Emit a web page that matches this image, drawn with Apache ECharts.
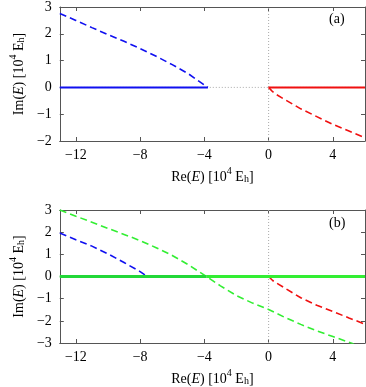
<!DOCTYPE html>
<html><head><meta charset="utf-8">
<script src="https://cdn.jsdelivr.net/npm/echarts@6/dist/echarts.min.js"></script>
<style>html,body{margin:0;padding:0;background:#fff}#c{width:366px;height:387px}</style>
</head><body><div id="c"></div><script>
// ---- data ----
const xTicks = [-12, -8, -4, 0, 4];
// reference lines
const zeroHX = [-13, 6], zeroHY = [0, 0];
const zeroVXa = [0, 0], zeroVYa = [-2, 3];
const zeroVXb = [0, 0], zeroVYb = [-3, 3];
// panel (a)
const aBlueDashX = [-13, -12, -11, -10, -9, -8, -7, -6, -5, -4.5, -4, -3.78];
const aBlueDashY = [2.76, 2.50, 2.23, 1.97, 1.72, 1.45, 1.16, 0.85, 0.51, 0.30, 0.09, 0];
const aBlueSolidX = [-13, -3.78];
const aBlueSolidY = [0, 0];
const aRedDashX = [0, 0.25, 0.5, 1, 2, 3, 4, 5, 6];
const aRedDashY = [0, -0.16, -0.27, -0.45, -0.80, -1.09, -1.38, -1.63, -1.88];
const aRedSolidX = [0, 6];
const aRedSolidY = [0, 0];
// panel (b)
const bGreenDashX = [-13, -12, -11, -10, -9, -8, -7, -6, -5, -4, -3.88, -3, -2, -1, 0, 1, 2, 3, 4, 5, 5.3];
const bGreenDashY = [3.0, 2.72, 2.45, 2.17, 1.90, 1.62, 1.30, 0.95, 0.53, 0.06, 0, -0.42, -0.86, -1.20, -1.49, -1.84, -2.16, -2.45, -2.71, -2.97, -3.04];
const bBlueDashX = [-13, -12, -11, -10, -9, -8, -7.56];
const bBlueDashY = [1.96, 1.66, 1.37, 1.02, 0.63, 0.22, 0];
const bRedDashX = [0, 0.25, 0.5, 1, 2, 3, 4, 5, 6];
const bRedDashY = [0, -0.18, -0.30, -0.52, -0.96, -1.30, -1.58, -1.87, -2.15];
const bGreenSolidLX = [-13, -3.85];
const bGreenSolidLY = [0, 0];
const bGreenSolidRX = [-3.85, 6];
const bGreenSolidRY = [0, 0];

const pairs = (xs, ys) => xs.map((x, i) => [x, ys[i]]);
const FONT = 'Liberation Serif';
const fmt = v => (v < 0 ? '\u2212' + (-v) : String(v));
const frame = '#555';

const rich = {
  n: {fontFamily: FONT, fontSize: 14, color: '#000', lineHeight: 18, verticalAlign: 'bottom'},
  i: {fontFamily: FONT, fontSize: 14, fontStyle: 'italic', color: '#000', lineHeight: 18, verticalAlign: 'bottom'},
  sup: {fontFamily: FONT, fontSize: 10, color: '#000', lineHeight: 18, verticalAlign: 'top'},
  sub: {fontFamily: FONT, fontSize: 10, color: '#000', lineHeight: 14, verticalAlign: 'bottom'}
};
const xName = '{n|Re(}{i|E}{n|) [10}{sup|4}{n| E}{sub|h}{n|]}';
const yName = '{n|Im(}{i|E}{n|) [10}{sup|4}{n| E}{sub|h}{n|]}';

function xAx(grid, bottom) {
  return {
    type: 'value', gridIndex: grid, min: -13, max: 6, position: bottom ? 'bottom' : 'top',
    axisLine: {show: true, onZero: false, lineStyle: {color: frame, width: 1}},
    axisTick: {show: true, inside: true, length: 4, customValues: xTicks, lineStyle: {color: frame}},
    axisLabel: {show: bottom, customValues: xTicks, formatter: fmt, fontFamily: FONT, fontSize: 14, color: '#000', margin: 7},
    splitLine: {show: false},
    name: bottom ? xName : '', nameLocation: 'middle', nameGap: 25,
    nameTextStyle: {rich: rich}
  };
}
function yAx(grid, left, min) {
  return {
    type: 'value', gridIndex: grid, min: min, max: 3, interval: 1, position: left ? 'left' : 'right',
    axisLine: {show: true, onZero: false, lineStyle: {color: frame, width: 1}},
    axisTick: {show: true, inside: true, length: 4, lineStyle: {color: frame}},
    axisLabel: {show: left, formatter: fmt, fontFamily: FONT, fontSize: 14, color: '#000', margin: 8},
    splitLine: {show: false},
    name: left ? yName : '', nameLocation: 'middle', nameGap: 33, nameRotate: 90,
    nameTextStyle: {rich: rich}
  };
}

function line(data, color, width, dashed, xi, yi, z) {
  return {
    type: 'line', data: data, xAxisIndex: xi, yAxisIndex: yi, showSymbol: false, symbol: 'none',
    smooth: false, animation: false, z: z || 3, clip: true,
    lineStyle: {color: color, width: width, type: dashed ? [7, 4] : 'solid'}
  };
}
function dotted(xs, ys, xi, yi) {
  return {
    type: 'line', data: pairs(xs, ys), xAxisIndex: xi, yAxisIndex: yi, showSymbol: false, symbol: 'none',
    animation: false, z: 1, lineStyle: {color: '#aaa', width: 1, type: [1, 2]}
  };
}

const BLUE = '#1010f0', RED = '#f01010', GREEN = '#33ee33', GREEN2 = '#22d838';

const chart = echarts.init(document.getElementById('c'), null, {renderer: 'canvas'});
chart.setOption({
  animation: false,
  backgroundColor: '#fff',
  grid: [
    {left: 48, right: 1, top: 6, height: 135},
    {left: 48, right: 1, top: 210, height: 135}
  ],
  xAxis: [xAx(0, true), xAx(0, false), xAx(1, true), xAx(1, false)],
  yAxis: [yAx(0, true, -2), yAx(0, false, -2), yAx(1, true, -3), yAx(1, false, -3)],
  graphic: [
    {type: 'text', left: 329, top: 12, style: {text: '(a)', font: '14px "Liberation Serif"', fill: '#000'}},
    {type: 'text', left: 329, top: 216, style: {text: '(b)', font: '14px "Liberation Serif"', fill: '#000'}}
  ],
  series: [
    dotted(zeroHX, zeroHY, 0, 0),
    dotted(zeroVXa, zeroVYa, 0, 0),
    line(pairs(aBlueSolidX, aBlueSolidY), BLUE, 2, false, 0, 0),
    line(pairs(aBlueDashX, aBlueDashY), BLUE, 1.6, true, 0, 0),
    line(pairs(aRedSolidX, aRedSolidY), RED, 2, false, 0, 0),
    line(pairs(aRedDashX, aRedDashY), RED, 1.6, true, 0, 0),
    dotted(zeroVXb, zeroVYb, 2, 2),
    line(pairs(bBlueDashX, bBlueDashY), BLUE, 1.6, true, 2, 2),
    line(pairs(bRedDashX, bRedDashY), RED, 1.6, true, 2, 2),
    line(pairs(bGreenDashX, bGreenDashY), GREEN, 1.6, true, 2, 2),
    line(pairs(bGreenSolidLX, bGreenSolidLY), GREEN2, 3, false, 2, 2, 4),
    line(pairs(bGreenSolidRX, bGreenSolidRY), GREEN, 3, false, 2, 2, 4)
  ]
});
</script></body></html>
